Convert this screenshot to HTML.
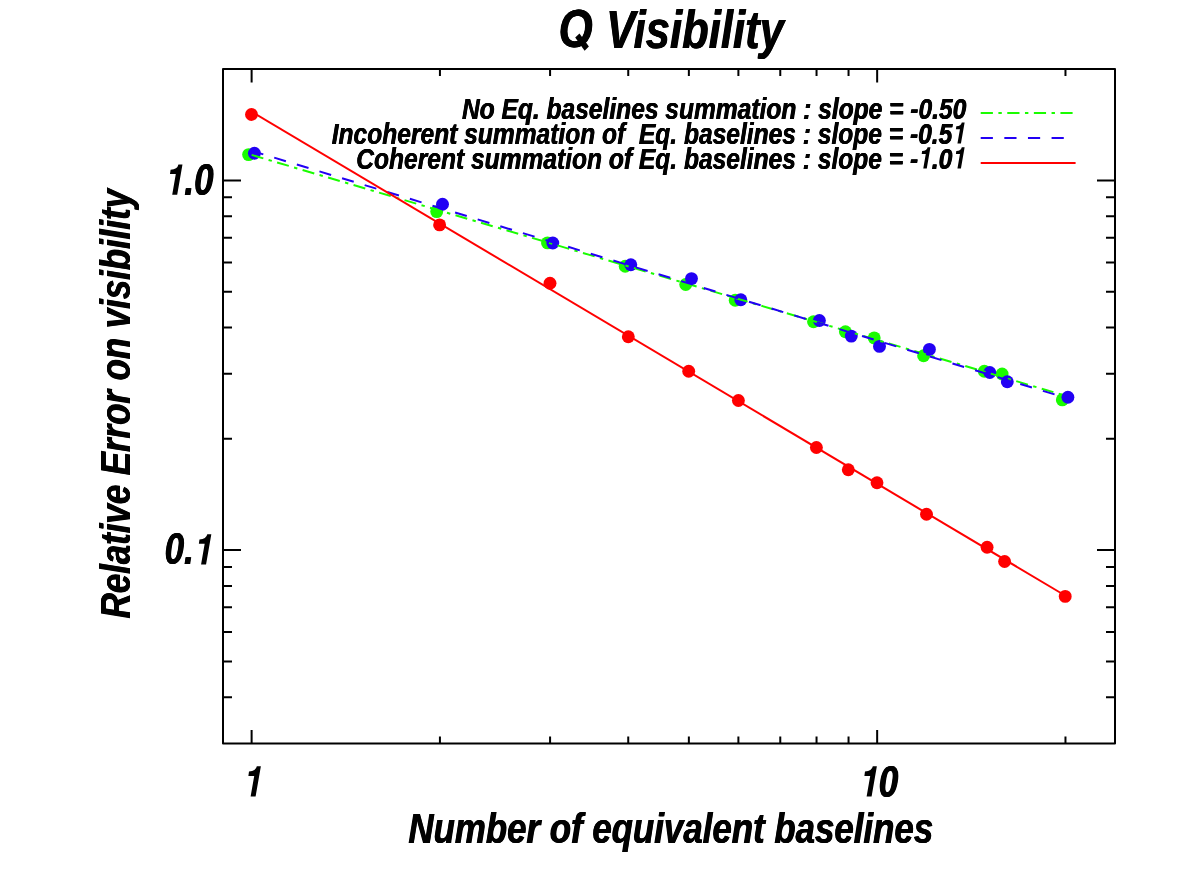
<!DOCTYPE html>
<html><head><meta charset="utf-8"><title>Q Visibility</title>
<style>
html,body{margin:0;padding:0;background:#fff;}
body{width:1181px;height:885px;overflow:hidden;}
svg{display:block;}
text{font-family:"Liberation Sans",sans-serif;font-weight:bold;font-style:italic;fill:#000;}
.h{fill-opacity:0;}
</style></head><body>
<svg width="1181" height="885" viewBox="0 0 1181 885">
<rect x="0" y="0" width="1181" height="885" fill="#fff"/>

<rect x="223.0" y="69.1" width="892.0" height="674.30" fill="none" stroke="#000" stroke-width="2.0" stroke-linejoin="round"/>
<path d="M251.62 743.4 v-13.5 M251.62 69.1 v13.5 M877.16 743.4 v-13.5 M877.16 69.1 v13.5 M439.93 743.4 v-6.8 M439.93 69.1 v6.8 M550.08 743.4 v-6.8 M550.08 69.1 v6.8 M628.24 743.4 v-6.8 M628.24 69.1 v6.8 M688.86 743.4 v-6.8 M688.86 69.1 v6.8 M738.39 743.4 v-6.8 M738.39 69.1 v6.8 M780.27 743.4 v-6.8 M780.27 69.1 v6.8 M816.54 743.4 v-6.8 M816.54 69.1 v6.8 M848.54 743.4 v-6.8 M848.54 69.1 v6.8 M1065.47 743.4 v-6.8 M1065.47 69.1 v6.8 M223.0 180.39 h18 M1115.0 180.39 h-18 M223.0 550.09 h18 M1115.0 550.09 h-18 M223.0 697.21 h9 M1115.0 697.21 h-9 M223.0 661.38 h9 M1115.0 661.38 h-9 M223.0 632.11 h9 M1115.0 632.11 h-9 M223.0 607.36 h9 M1115.0 607.36 h-9 M223.0 585.92 h9 M1115.0 585.92 h-9 M223.0 567.01 h9 M1115.0 567.01 h-9 M223.0 438.80 h9 M1115.0 438.80 h-9 M223.0 373.70 h9 M1115.0 373.70 h-9 M223.0 327.51 h9 M1115.0 327.51 h-9 M223.0 291.68 h9 M1115.0 291.68 h-9 M223.0 262.41 h9 M1115.0 262.41 h-9 M223.0 237.66 h9 M1115.0 237.66 h-9 M223.0 216.22 h9 M1115.0 216.22 h-9 M223.0 197.31 h9 M1115.0 197.31 h-9" stroke="#000" stroke-width="2.0" fill="none"/>
<g fill="#1afc00"><circle cx="248.6" cy="154.6" r="6.45"/><circle cx="436.7" cy="211.6" r="6.45"/><circle cx="547.5" cy="242.9" r="6.45"/><circle cx="625.2" cy="266.3" r="6.45"/><circle cx="685.7" cy="284.5" r="6.45"/><circle cx="735.2" cy="300.3" r="6.45"/><circle cx="813.5" cy="321.8" r="6.45"/><circle cx="845.4" cy="331.8" r="6.45"/><circle cx="874.2" cy="337.9" r="6.45"/><circle cx="923.6" cy="355.7" r="6.45"/><circle cx="984.3" cy="371.3" r="6.45"/><circle cx="1002.1" cy="374.0" r="6.45"/><circle cx="1062.3" cy="399.9" r="6.45"/></g>
<g fill="#2200f4"><circle cx="254.4" cy="153.2" r="6.45"/><circle cx="442.5" cy="204.3" r="6.45"/><circle cx="552.8" cy="243.0" r="6.45"/><circle cx="630.8" cy="264.8" r="6.45"/><circle cx="691.5" cy="278.6" r="6.45"/><circle cx="740.8" cy="299.8" r="6.45"/><circle cx="819.4" cy="320.5" r="6.45"/><circle cx="851.3" cy="336.1" r="6.45"/><circle cx="879.5" cy="346.4" r="6.45"/><circle cx="929.4" cy="349.4" r="6.45"/><circle cx="989.8" cy="372.5" r="6.45"/><circle cx="1007.3" cy="381.7" r="6.45"/><circle cx="1067.9" cy="397.3" r="6.45"/></g>
<g fill="#ff0000"><circle cx="251.5" cy="114.5" r="6.45"/><circle cx="439.6" cy="224.9" r="6.45"/><circle cx="550.0" cy="283.3" r="6.45"/><circle cx="628.3" cy="336.7" r="6.45"/><circle cx="688.7" cy="371.3" r="6.45"/><circle cx="738.4" cy="400.5" r="6.45"/><circle cx="816.4" cy="447.5" r="6.45"/><circle cx="848.3" cy="469.8" r="6.45"/><circle cx="877.0" cy="482.8" r="6.45"/><circle cx="926.5" cy="514.2" r="6.45"/><circle cx="987.1" cy="547.3" r="6.45"/><circle cx="1004.6" cy="561.5" r="6.45"/><circle cx="1065.2" cy="596.4" r="6.45"/></g>
<line x1="251.62" y1="154.9" x2="1065.47" y2="395.72" stroke="#1afc00" stroke-width="2.0" stroke-dasharray="12.2 5.49 3.4 5.49"/>
<line x1="251.62" y1="150.8" x2="1065.47" y2="397.72" stroke="#2200f4" stroke-width="2.0" stroke-dasharray="12.2 11.425"/>
<line x1="251.62" y1="111.7" x2="1065.47" y2="595.75" stroke="#ff0000" stroke-width="2.0"/>
<line x1="980.7" y1="113.0" x2="1072.6" y2="113.0" stroke="#1afc00" stroke-width="2.0" stroke-dasharray="12.2 5.49 3.4 5.49"/>
<line x1="980.7" y1="137.9" x2="1064.2" y2="137.9" stroke="#2200f4" stroke-width="2.0" stroke-dasharray="12.2 11.425"/>
<line x1="980.7" y1="162.9" x2="1075.6" y2="162.9" stroke="#ff0000" stroke-width="2.0"/>
<g style="opacity:0.999">
<text id="titleQ" transform="translate(558.60 47.3) scale(0.804954128440367 1)" font-size="54.5" text-anchor="start" xml:space="preserve">O</text>
<text transform="translate(558.20 47.3) scale(0.804954128440367 1)" font-size="54.5" text-anchor="start" xml:space="preserve">O</text>
<text transform="translate(559.00 47.3) scale(0.804954128440367 1)" font-size="54.5" text-anchor="start" xml:space="preserve">O</text>
<path d="M579.5 33.5 L575.2 37.6 L584.6 50.7 L588.9 46.5 Z" fill="#000"/>
<text id="title" transform="translate(606.10 47.9) scale(0.8009293577981651 1)" font-size="54.5" text-anchor="start" xml:space="preserve">Visibility</text>
<text transform="translate(605.70 47.9) scale(0.8009293577981651 1)" font-size="54.5" text-anchor="start" xml:space="preserve">Visibility</text>
<text transform="translate(606.50 47.9) scale(0.8009293577981651 1)" font-size="54.5" text-anchor="start" xml:space="preserve">Visibility</text>
<text id="y10" transform="translate(164.90 194.7) scale(0.7986301369863014 1)" font-size="43.8" text-anchor="start" xml:space="preserve"><tspan class="h">1</tspan>.0</text>
<text transform="translate(164.50 194.7) scale(0.7986301369863014 1)" font-size="43.8" text-anchor="start" xml:space="preserve"><tspan class="h">1</tspan>.0</text>
<text transform="translate(165.30 194.7) scale(0.7986301369863014 1)" font-size="43.8" text-anchor="start" xml:space="preserve"><tspan class="h">1</tspan>.0</text>
<path d="M182.47 164.44 L178.42 164.44 Q177.44 169.28 170.59 169.79 L169.98 174.09 L175.80 174.09 L172.21 194.70 L177.19 194.70 Z" fill="#000"/>
<text id="y01" transform="translate(164.60 564.4) scale(0.7986301369863014 1)" font-size="43.8" text-anchor="start" xml:space="preserve">0.<tspan class="h">1</tspan></text>
<text transform="translate(164.20 564.4) scale(0.7986301369863014 1)" font-size="43.8" text-anchor="start" xml:space="preserve">0.<tspan class="h">1</tspan></text>
<text transform="translate(165.00 564.4) scale(0.7986301369863014 1)" font-size="43.8" text-anchor="start" xml:space="preserve">0.<tspan class="h">1</tspan></text>
<path d="M211.33 534.14 L207.29 534.14 Q206.31 538.99 199.46 539.50 L198.85 543.79 L204.67 543.79 L201.07 564.40 L206.06 564.40 Z" fill="#000"/>
<text id="x1" transform="translate(243.30 796.5) scale(0.7986301369863014 1)" font-size="43.8" text-anchor="start" xml:space="preserve"><tspan class="h">1</tspan></text>
<text transform="translate(242.90 796.5) scale(0.7986301369863014 1)" font-size="43.8" text-anchor="start" xml:space="preserve"><tspan class="h">1</tspan></text>
<text transform="translate(243.70 796.5) scale(0.7986301369863014 1)" font-size="43.8" text-anchor="start" xml:space="preserve"><tspan class="h">1</tspan></text>
<path d="M260.87 766.24 L256.82 766.24 Q255.84 771.09 248.99 771.60 L248.38 775.89 L254.20 775.89 L250.61 796.50 L255.59 796.50 Z" fill="#000"/>
<text id="x10" transform="translate(859.30 796.5) scale(0.7986301369863014 1)" font-size="43.8" text-anchor="start" xml:space="preserve"><tspan class="h">1</tspan>0</text>
<text transform="translate(858.90 796.5) scale(0.7986301369863014 1)" font-size="43.8" text-anchor="start" xml:space="preserve"><tspan class="h">1</tspan>0</text>
<text transform="translate(859.70 796.5) scale(0.7986301369863014 1)" font-size="43.8" text-anchor="start" xml:space="preserve"><tspan class="h">1</tspan>0</text>
<path d="M876.87 766.24 L872.82 766.24 Q871.84 771.09 864.99 771.60 L864.38 775.89 L870.20 775.89 L866.61 796.50 L871.59 796.50 Z" fill="#000"/>
<text id="xt" transform="translate(408.40 842.7) scale(0.8107274418604651 1)" font-size="43.0" text-anchor="start" xml:space="preserve">Number of equivalent baselines</text>
<text transform="translate(408.00 842.7) scale(0.8107274418604651 1)" font-size="43.0" text-anchor="start" xml:space="preserve">Number of equivalent baselines</text>
<text transform="translate(408.80 842.7) scale(0.8107274418604651 1)" font-size="43.0" text-anchor="start" xml:space="preserve">Number of equivalent baselines</text>
<text id="yt" transform="translate(130.2 618.3) rotate(-90) translate(0 0) scale(0.8095441860465116 1)" font-size="43.0" text-anchor="start" xml:space="preserve">Relative Error on visibility</text>
<text transform="translate(130.2 618.3) rotate(-90) translate(-0.4 0) scale(0.8095441860465116 1)" font-size="43.0" text-anchor="start" xml:space="preserve">Relative Error on visibility</text>
<text transform="translate(130.2 618.3) rotate(-90) translate(0.4 0) scale(0.8095441860465116 1)" font-size="43.0" text-anchor="start" xml:space="preserve">Relative Error on visibility</text>
<text id="l1" transform="translate(966.30 119.1) scale(0.8123147107438018 1)" font-size="30.25" text-anchor="end" xml:space="preserve">No Eq. baselines summation : slope = -0.50</text>
<text transform="translate(966.00 119.1) scale(0.8123147107438018 1)" font-size="30.25" text-anchor="end" xml:space="preserve">No Eq. baselines summation : slope = -0.50</text>
<text transform="translate(966.60 119.1) scale(0.8123147107438018 1)" font-size="30.25" text-anchor="end" xml:space="preserve">No Eq. baselines summation : slope = -0.50</text>
<text id="l2" transform="translate(966.00 143.6) scale(0.8128080991735538 1)" font-size="30.25" text-anchor="end" xml:space="preserve">Incoherent summation of&#160; Eq. baselines : slope = -0.5<tspan class="h">1</tspan></text>
<text transform="translate(965.70 143.6) scale(0.8128080991735538 1)" font-size="30.25" text-anchor="end" xml:space="preserve">Incoherent summation of&#160; Eq. baselines : slope = -0.5<tspan class="h">1</tspan></text>
<text transform="translate(966.30 143.6) scale(0.8128080991735538 1)" font-size="30.25" text-anchor="end" xml:space="preserve">Incoherent summation of&#160; Eq. baselines : slope = -0.5<tspan class="h">1</tspan></text>
<path d="M964.63 122.42 L961.80 122.42 Q961.11 125.81 956.31 126.17 L955.89 129.17 L959.96 129.17 L957.44 143.60 L960.93 143.60 Z" fill="#000"/>
<text id="l3" transform="translate(966.00 168.5) scale(0.8128080991735538 1)" font-size="30.25" text-anchor="end" xml:space="preserve">Coherent summation of Eq. baselines : slope = -<tspan class="h">1</tspan>.0<tspan class="h">1</tspan></text>
<text transform="translate(965.70 168.5) scale(0.8128080991735538 1)" font-size="30.25" text-anchor="end" xml:space="preserve">Coherent summation of Eq. baselines : slope = -<tspan class="h">1</tspan>.0<tspan class="h">1</tspan></text>
<text transform="translate(966.30 168.5) scale(0.8128080991735538 1)" font-size="30.25" text-anchor="end" xml:space="preserve">Coherent summation of Eq. baselines : slope = -<tspan class="h">1</tspan>.0<tspan class="h">1</tspan></text>
<path d="M930.45 147.32 L927.62 147.32 Q926.93 150.71 922.13 151.07 L921.71 154.07 L925.78 154.07 L923.27 168.50 L926.75 168.50 Z" fill="#000"/>
<path d="M964.63 147.32 L961.80 147.32 Q961.11 150.71 956.31 151.07 L955.89 154.07 L959.96 154.07 L957.44 168.50 L960.93 168.50 Z" fill="#000"/>
</g>
</svg></body></html>
